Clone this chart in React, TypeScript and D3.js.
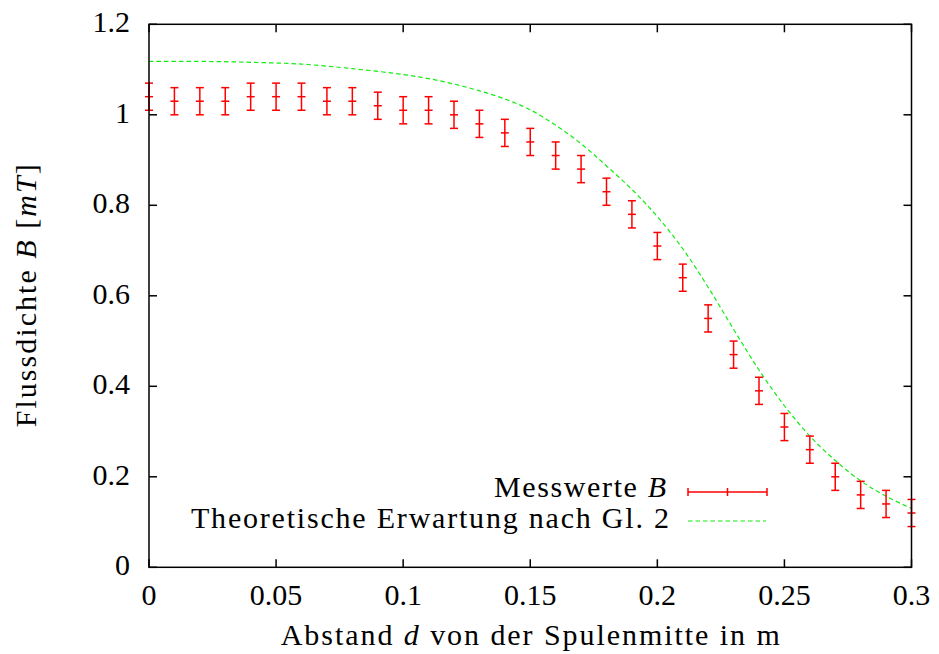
import React from "react";
import * as d3 from "d3";

const measX = [0, 0.01, 0.02, 0.03, 0.04, 0.05, 0.06, 0.07, 0.08, 0.09, 0.10, 0.11, 0.12, 0.13, 0.14, 0.15, 0.16, 0.17, 0.18, 0.19, 0.20, 0.21, 0.22, 0.23, 0.24, 0.25, 0.26, 0.27, 0.28, 0.29, 0.30];
const measB = [1.04, 1.03, 1.03, 1.03, 1.04, 1.04, 1.04, 1.03, 1.03, 1.02, 1.01, 1.01, 1.00, 0.98, 0.96, 0.94, 0.91, 0.88, 0.83, 0.78, 0.71, 0.64, 0.55, 0.47, 0.39, 0.31, 0.26, 0.20, 0.16, 0.14, 0.12];
const measErr = [0.03, 0.03, 0.03, 0.03, 0.03, 0.03, 0.03, 0.03, 0.03, 0.03, 0.03, 0.03, 0.03, 0.03, 0.03, 0.03, 0.03, 0.03, 0.03, 0.03, 0.03, 0.03, 0.03, 0.03, 0.03, 0.03, 0.03, 0.03, 0.03, 0.03, 0.03];

const theoX = [0, 0.02, 0.04, 0.06, 0.08, 0.10, 0.11, 0.12, 0.13, 0.14, 0.15, 0.16, 0.17, 0.18, 0.19, 0.20, 0.21, 0.22, 0.23, 0.24, 0.25, 0.26, 0.27, 0.28, 0.29, 0.30];
const theoB = [1.118, 1.118, 1.116, 1.112, 1.102, 1.089, 1.080, 1.068, 1.053, 1.035, 1.011, 0.977, 0.936, 0.887, 0.835, 0.775, 0.704, 0.619, 0.526, 0.436, 0.357, 0.290, 0.236, 0.191, 0.157, 0.130];

const xTicks = [0, 0.05, 0.1, 0.15, 0.2, 0.25, 0.3];
const xTickLabels = ["0", "0.05", "0.1", "0.15", "0.2", "0.25", "0.3"];
const yTicks = [0, 0.2, 0.4, 0.6, 0.8, 1.0, 1.2];
const yTickLabels = ["0", "0.2", "0.4", "0.6", "0.8", "1", "1.2"];

const W = 939;
const H = 654;
const L = 149;
const R = 911.5;
const T = 24.3;
const B = 567.3;
const FONT = "'Liberation Serif', 'DejaVu Serif', 'Times New Roman', serif";
const RED = "#ff0000";
const GREEN = "#11ee11";

export default function App() {
  const x = d3.scaleLinear().domain([0, 0.3]).range([L, R]);
  const y = d3.scaleLinear().domain([0, 1.2]).range([B, T]);
  const line = d3
    .line<number>()
    .x((_, i) => x(theoX[i]))
    .y((d) => y(d))
    .curve(d3.curveCatmullRom.alpha(0.5));
  const tick = 8;
  const cap = 4;
  const textStyle = { fontFamily: FONT };

  return (
    <svg width={W} height={H} style={{ position: "absolute", left: 0, top: 0, background: "#fff", fontFamily: FONT }}>
      <rect x={0} y={0} width={W} height={H} fill="#fff" />
      <path d={line(theoB) || ""} fill="none" stroke={GREEN} strokeWidth={1.2} strokeDasharray="4.5,3" />
      {measX.map((mx, i) => {
        const cx = x(mx);
        const cy = y(measB[i]);
        const y0 = y(measB[i] - measErr[i]);
        const y1 = y(measB[i] + measErr[i]);
        return (
          <g key={i} stroke={RED} strokeWidth={1.5}>
            <line x1={cx} x2={cx} y1={y0} y2={y1} />
            <line x1={cx - cap} x2={cx + cap} y1={y0} y2={y0} />
            <line x1={cx - cap} x2={cx + cap} y1={y1} y2={y1} />
            <line x1={cx - cap} x2={cx + cap} y1={cy} y2={cy} />
          </g>
        );
      })}
      <rect x={L} y={T} width={R - L} height={B - T} fill="none" stroke="#000" strokeWidth={1.5} />
      {xTicks.map((t, i) => (
        <g key={"xt" + i}>
          <line x1={x(t)} x2={x(t)} y1={B} y2={B - tick} stroke="#000" strokeWidth={1.5} />
          <line x1={x(t)} x2={x(t)} y1={T} y2={T + tick} stroke="#000" strokeWidth={1.5} />
          <text x={x(t)} y={B + 38} fontSize={30} textAnchor="middle" fill="#000" style={textStyle}>
            {xTickLabels[i]}
          </text>
        </g>
      ))}
      {yTicks.map((t, i) => (
        <g key={"yt" + i}>
          <line x1={L} x2={L + tick} y1={y(t)} y2={y(t)} stroke="#000" strokeWidth={1.5} />
          <line x1={R} x2={R - tick} y1={y(t)} y2={y(t)} stroke="#000" strokeWidth={1.5} />
          <text x={130} y={y(t) + 8} fontSize={30} textAnchor="end" fill="#000" style={textStyle}>
            {yTickLabels[i]}
          </text>
        </g>
      ))}
      <text x={(L + R) / 2} y={645} fontSize={30} textAnchor="middle" fill="#000" textLength={499} lengthAdjust="spacing" style={textStyle}>
        Abstand <tspan fontStyle="italic">d</tspan> von der Spulenmitte in m
      </text>
      <text
        transform={`translate(36, ${(T + B) / 2}) rotate(-90)`}
        fontSize={30}
        textAnchor="middle"
        fill="#000"
        textLength={263}
        lengthAdjust="spacing"
        style={textStyle}
      >
        Flussdichte <tspan fontStyle="italic">B</tspan> [<tspan fontStyle="italic">mT</tspan>]
      </text>
      <text x={666} y={497} fontSize={30} textAnchor="end" fill="#000" textLength={172} lengthAdjust="spacing" style={textStyle}>
        Messwerte <tspan fontStyle="italic">B</tspan>
      </text>
      <text x={669} y={528} fontSize={30} textAnchor="end" fill="#000" textLength={478} lengthAdjust="spacing" style={textStyle}>
        Theoretische Erwartung nach Gl. 2
      </text>
      <g stroke={RED} strokeWidth={1.5}>
        <line x1={688} x2={767} y1={492} y2={492} />
        <line x1={688} x2={688} y1={488} y2={496} />
        <line x1={767} x2={767} y1={488} y2={496} />
        <line x1={727.5} x2={727.5} y1={488} y2={496} />
      </g>
      <line x1={688} x2={766} y1={521} y2={521} stroke={GREEN} strokeWidth={1.2} strokeDasharray="4.5,3" />
    </svg>
  );
}
